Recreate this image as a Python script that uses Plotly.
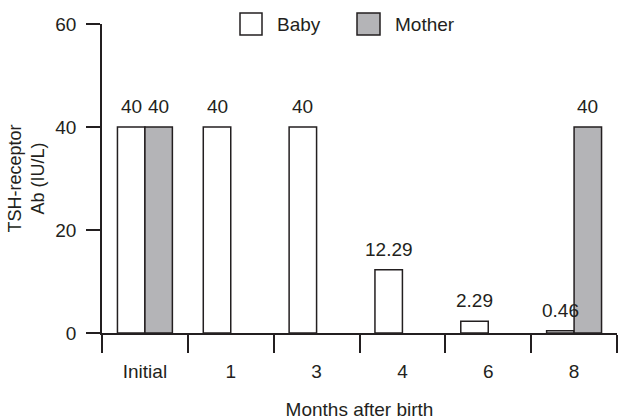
import plotly.graph_objects as go

categories = ["Initial", "1", "3", "4", "6", "8"]
baby = [40, 40, 40, 12.29, 2.29, 0.46]
mother = [40, None, None, None, None, 40]
y_ticks = [0, 20, 40, 60]

INK = "#231f20"
GRAY = "#b4b4b7"
FONT = "Liberation Sans, Arial, sans-serif"
FS = 19

fig = go.Figure()
fig.add_trace(go.Bar(x=categories, y=baby, name="Baby",
                     marker=dict(color="white", line=dict(color=INK, width=1.5))))
fig.add_trace(go.Bar(x=categories, y=mother, name="Mother",
                     marker=dict(color=GRAY, line=dict(color=INK, width=1.5))))

bargap = 0.36
half = (1 - bargap) / 4
annotations = []
for series, off in ((baby, -half), (mother, half)):
    for i, v in enumerate(series):
        if v is None:
            continue
        annotations.append(dict(x=i + off, y=v, xref="x", yref="y", text=f"{v:g}",
                                showarrow=False, yanchor="bottom", yshift=8,
                                font=dict(size=FS, color=INK, family=FONT)))

# manual legend (boxes + labels)
def px2paper(px, py):
    return (px - 102) / 515, (333 - py) / 309

shapes = []
for (x0, x1), fill, label, tx in (((240, 262), "white", "Baby", 275),
                                  ((357, 380), GRAY, "Mother", 393)):
    a, b = px2paper(x0, 13)
    c, d = px2paper(x1, 35)
    shapes.append(dict(type="rect", xref="paper", yref="paper", x0=a, x1=c, y0=d, y1=b,
                       fillcolor=fill, line=dict(color=INK, width=1.5)))
    lx, ly = px2paper(tx, 24.5)
    annotations.append(dict(x=lx, y=ly, xref="paper", yref="paper", text=label,
                            showarrow=False, xanchor="left", yanchor="middle",
                            font=dict(size=FS, color=INK, family=FONT)))

fig.update_layout(
    width=619, height=420,
    margin=dict(l=102, r=2, t=24, b=87),
    paper_bgcolor="white", plot_bgcolor="white",
    barmode="group", bargap=bargap, bargroupgap=0,
    showlegend=False,
    font=dict(family=FONT, size=FS, color=INK),
    annotations=annotations, shapes=shapes,
)
fig.update_xaxes(
    type="category", range=[-0.5, 5.5], tickson="boundaries", automargin=False,
    ticks="outside", ticklen=18, tickwidth=1.5, tickcolor=INK,
    showline=True, linecolor=INK, linewidth=1.5, showgrid=False,
    ticklabelstandoff=20,
    title=dict(text="Months after birth", standoff=24, font=dict(size=FS)),
)
fig.update_yaxes(
    range=[0, 60], tickvals=y_ticks, ticks="outside", ticklen=14, tickwidth=1.5,
    automargin=False,
    tickcolor=INK, showline=True, linecolor=INK, linewidth=1.5, showgrid=False,
    zeroline=False, ticklabelstandoff=6,
    title=dict(text="TSH-receptor<br>Ab (IU/L)", standoff=6, font=dict(size=18)),
)
fig.write_html("out.html", post_script="document.body.style.margin='0';",
               config={"displayModeBar": False})
